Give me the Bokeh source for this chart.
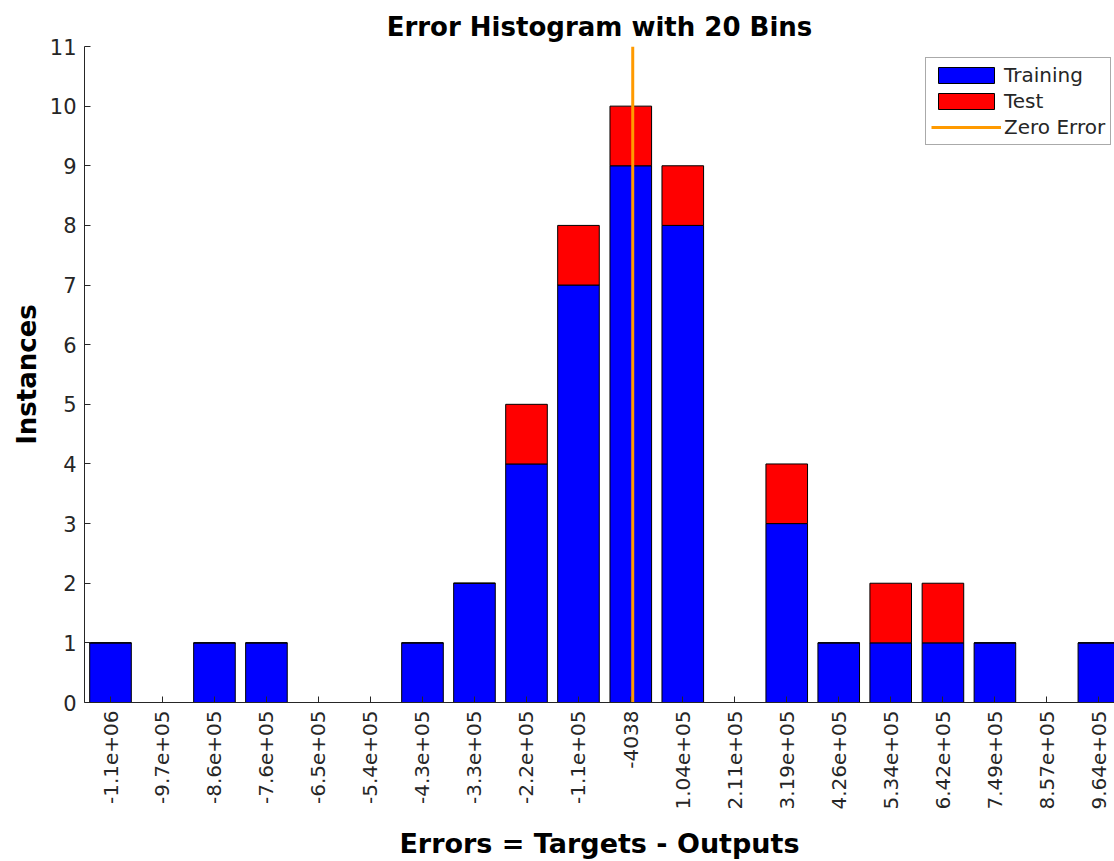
import numpy as np
from bokeh.plotting import figure
from bokeh.models import ColumnDataSource, Legend, LegendItem, FixedTicker, Range1d
from bokeh.embed import file_html
from bokeh.resources import INLINE

# ---- data ----
bin_labels = ["-1.1e+06", "-9.7e+05", "-8.6e+05", "-7.6e+05", "-6.5e+05",
              "-5.4e+05", "-4.3e+05", "-3.3e+05", "-2.2e+05", "-1.1e+05",
              "-4038", "1.04e+05", "2.11e+05", "3.19e+05", "4.26e+05",
              "5.34e+05", "6.42e+05", "7.49e+05", "8.57e+05", "9.64e+05"]
bin_centers = [-1080000, -972500, -865000, -757500, -650000,
               -542500, -434800, -327300, -219700, -112200,
               -4038, 103500, 211000, 318500, 426000,
               533500, 641500, 749000, 856500, 964000]
training = [1, 0, 1, 1, 0, 0, 1, 2, 4, 7, 9, 8, 0, 3, 1, 1, 1, 1, 0, 1]
test     = [0, 0, 0, 0, 0, 0, 0, 0, 1, 1, 1, 1, 0, 1, 0, 1, 1, 0, 0, 0]
zero_error = 0
y_ticks = list(range(0, 12))

binw = bin_centers[11] - bin_centers[10]
x_start = bin_centers[0] - 0.5 * binw
x_end = x_start + 1030 * (binw / 52.0)

src = ColumnDataSource(dict(
    x=bin_centers,
    train=training,
    top=[a + b for a, b in zip(training, test)],
))

FONT = "DejaVu Sans"
TXT = "#262626"

p = figure(width=1114, height=861, output_backend="svg", toolbar_location=None,
           x_range=Range1d(x_start, x_end), y_range=Range1d(0, 11),
           min_border_left=84, min_border_right=0, min_border_top=46,
           min_border_bottom=159,
           title="Error Histogram with 20 Bins")

p.title.align = "center"
p.title.text_font = FONT
p.title.text_font_size = "26px"
p.title.text_font_style = "bold"
p.title.text_color = "#000000"
p.title.offset = 0

r_train = p.vbar(x="x", top="train", bottom=0, width=0.8 * binw, source=src,
                 fill_color="#0000FF", line_color="#000000", line_width=1)
r_test = p.vbar(x="x", top="top", bottom="train", width=0.8 * binw, source=src,
                fill_color="#FF0000", line_color="#000000", line_width=1)
r_zero = p.line(x=[zero_error, zero_error], y=[0, 11], line_color="#FF9A00", line_width=3)

p.xgrid.visible = False
p.ygrid.visible = False
p.outline_line_color = None
p.background_fill_color = "white"
p.border_fill_color = "white"

# x axis
p.xaxis.ticker = FixedTicker(ticks=bin_centers)
p.xaxis.major_label_overrides = {c: l for c, l in zip(bin_centers, bin_labels)}
p.xaxis.major_label_orientation = np.pi / 2
p.xaxis.axis_label = "Errors = Targets - Outputs"
p.yaxis.ticker = FixedTicker(ticks=y_ticks)
p.yaxis.axis_label = "Instances"

for ax in (p.xaxis[0], p.yaxis[0]):
    ax.major_label_text_font = FONT
    ax.major_label_text_color = TXT
    ax.axis_label_text_font = FONT
    ax.axis_label_text_font_style = "bold"
    ax.axis_label_text_color = "#000000"
    ax.axis_line_color = TXT
    ax.major_tick_line_color = TXT
    ax.major_tick_in = 6
    ax.major_tick_out = 0
    ax.minor_tick_line_color = None
    ax.major_label_standoff = 8

p.xaxis.major_label_text_font_size = "20px"
p.yaxis.major_label_text_font_size = "21px"
p.xaxis.axis_label_text_font_size = "27px"
p.yaxis.axis_label_text_font_size = "26px"
p.xaxis.axis_label_standoff = 15

legend = Legend(items=[
    LegendItem(label="Training", renderers=[r_train]),
    LegendItem(label="Test", renderers=[r_test]),
    LegendItem(label="Zero Error", renderers=[r_zero]),
], location=(841, 557))
legend.label_text_font = FONT
legend.label_text_font_size = "20px"
legend.label_text_color = TXT
legend.glyph_width = 70
legend.glyph_height = 20
legend.label_height = 20
legend.spacing = 2
legend.padding = 5
legend.label_standoff = 3
legend.border_line_color = "#555555"
legend.border_line_width = 1
legend.background_fill_alpha = 1.0
p.add_layout(legend, "center")

open("out.html", "w").write(file_html(p, INLINE))
